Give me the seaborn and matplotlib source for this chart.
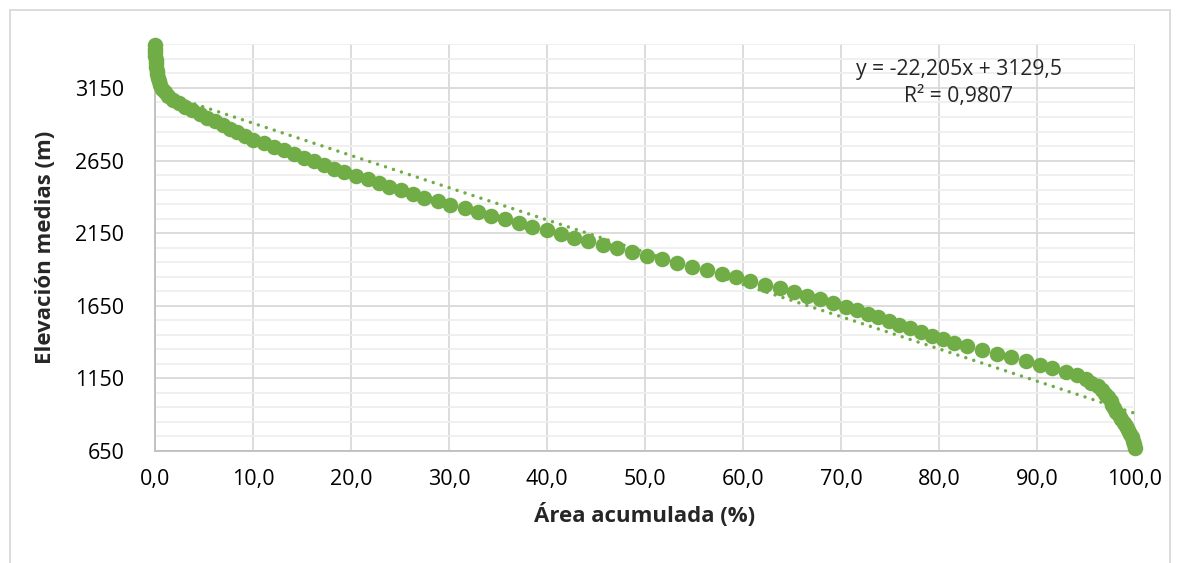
import numpy as np
import pandas as pd
import matplotlib
matplotlib.use("Agg")
import matplotlib.pyplot as plt
from matplotlib.patches import Rectangle
from matplotlib.ticker import FuncFormatter, MultipleLocator
import seaborn as sns

# Hypsometric curve: elevation band (m) vs cumulative area (%)
elevacion = [
    3445, 3420, 3395, 3370, 3345, 3320, 3295, 3270, 3245, 3220, 3195, 3170, 3145,
    3120, 3095, 3070, 3045, 3020, 2995, 2970, 2945, 2920, 2895, 2870, 2845, 2820,
    2795, 2770, 2745, 2720, 2695, 2670, 2645, 2620, 2595, 2570, 2545, 2520, 2495,
    2470, 2445, 2420, 2395, 2370, 2345, 2320, 2295, 2270, 2245, 2220, 2195, 2170,
    2145, 2120, 2095, 2070, 2045, 2020, 1995, 1970, 1945, 1920, 1895, 1870, 1845,
    1820, 1795, 1770, 1745, 1720, 1695, 1670, 1645, 1620, 1595, 1570, 1545, 1520,
    1495, 1470, 1445, 1420, 1395, 1370, 1345, 1320, 1295, 1270, 1245, 1220, 1195,
    1170, 1145, 1120, 1095, 1070, 1045, 1020, 995, 970, 945, 920, 895, 870, 845,
    820, 795, 770, 745, 720, 695, 670,
]
area_acum = [
    0.00, 0.01, 0.02, 0.04, 0.06, 0.09, 0.12, 0.16, 0.21, 0.28, 0.37, 0.50, 0.70,
    0.98, 1.35, 1.85, 2.45, 3.10, 3.80, 4.55, 5.35, 6.15, 6.90, 7.65, 8.40, 9.20,
    10.01, 11.10, 12.12, 13.15, 14.17, 15.19, 16.22, 17.24, 18.27, 19.29, 20.49,
    21.69, 22.88, 23.90, 25.10, 26.30, 27.49, 28.86, 30.10, 31.59, 32.96, 34.32,
    35.69, 37.12, 38.52, 39.96, 41.39, 42.80, 44.23, 45.70, 47.13, 48.67, 50.20,
    51.74, 53.28, 54.82, 56.35, 57.89, 59.32, 60.72, 62.26, 63.76, 65.16, 66.50,
    67.86, 69.16, 70.46, 71.62, 72.75, 73.77, 74.87, 75.89, 77.02, 78.14, 79.30,
    80.43, 81.53, 82.82, 84.35, 85.89, 87.37, 88.90, 90.27, 91.53, 93.00, 94.09,
    94.95, 95.50, 96.20, 96.60, 96.90, 97.25, 97.50, 97.70, 97.90, 98.10, 98.35,
    98.60, 98.85, 99.10, 99.30, 99.50, 99.65, 99.80, 99.90, 100.00,
]

# Linear trendline as reported on the chart
pendiente = -22.205
intercepto = 3129.5
r2 = 0.9807

VERDE = "#70AD47"
GRID = "#D9D9D9"
GRID_MENOR = "#EFEFEF"

sns.set_style("white")
plt.rcParams["font.family"] = ["Open Sans", "DejaVu Sans"]

df = pd.DataFrame({"area": area_acum, "elev": elevacion})

fig = plt.figure(figsize=(11.77, 5.63), dpi=100)
ax = fig.add_axes([155 / 1177, 1 - 451 / 563, (1135 - 155) / 1177, (451 - 44.4) / 563])

# Grid: majors every 10 % / 500 m, light minor every 100 m
ax.set_xlim(0, 100)
ax.set_ylim(650, 3450)
ax.xaxis.set_major_locator(MultipleLocator(10))
ax.set_yticks([650, 1150, 1650, 2150, 2650, 3150])
ax.set_yticks(np.arange(750, 3451, 100), minor=True)
ax.grid(axis="y", which="minor", color=GRID_MENOR, linewidth=1.3, zorder=0)
ax.grid(axis="both", which="major", color=GRID, linewidth=1.3, zorder=0)
ax.set_axisbelow(True)

# Trendline (dotted)
xs = np.array([0, 100])
ax.plot(xs, pendiente * xs + intercepto, color=VERDE, linewidth=2.5,
        linestyle=(0, (0.01, 2.4)), dash_capstyle="round", zorder=2)

sns.scatterplot(data=df, x="area", y="elev", ax=ax, color=VERDE, s=125,
                linewidth=0, alpha=1, zorder=3, clip_on=False)

ax.xaxis.set_major_formatter(FuncFormatter(lambda v, p: f"{v:.1f}".replace(".", ",")))
ax.tick_params(axis="both", which="both", length=0, labelsize=15.5, colors="black")
ax.tick_params(axis="x", pad=13)
ax.tick_params(axis="y", pad=22)

for s in ["top", "right"]:
    ax.spines[s].set_visible(False)
for s in ["left", "bottom"]:
    ax.spines[s].set_color("#BFBFBF")
    ax.spines[s].set_linewidth(1.3)

ax.set_xlabel("Área acumulada (%)", fontsize=16, fontweight="bold", labelpad=9)
ax.set_ylabel("Elevación medias (m)", fontsize=16, fontweight="bold", labelpad=14)

ax.text(82.0, 3274, "y = -22,205x + 3129,5", ha="center", va="center", fontsize=15.2)
ax.text(82.0, 3088, "R² = 0,9807", ha="center", va="center", fontsize=15.2)

fig.patches.append(Rectangle((10 / 1177, -0.01), 1160 / 1177, 1.01 - 10 / 563,
                             transform=fig.transFigure, fill=False,
                             edgecolor="#D9D9D9", linewidth=1.3))

fig.savefig("out.png", dpi=100)
